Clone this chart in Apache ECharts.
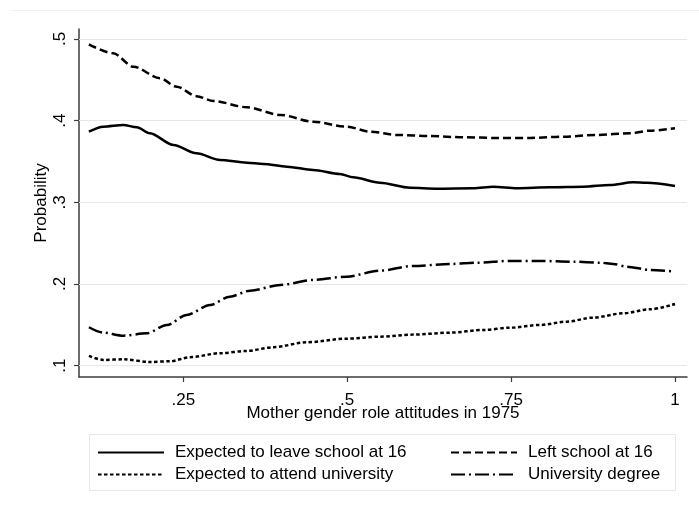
<!DOCTYPE html>
<html>
<head>
<meta charset="utf-8">
<script src="https://cdn.jsdelivr.net/npm/echarts@6/dist/echarts.min.js"></script>
<style>
html,body{margin:0;padding:0;background:#fff;}
#chart{width:699px;height:508px;}
</style>
</head>
<body>
<div id="chart"></div>
<script>
// ---- data ----
var xTicks = [0.25, 0.5, 0.75, 1];
var yTicks = [0.1, 0.2, 0.3, 0.4, 0.5];

var leaveX = [0.106,0.128,0.1585,0.179,0.199,0.235,0.270,0.306,0.347,0.372,0.408,0.448,0.489,0.509,0.550,0.596,0.637,0.692,0.723,0.759,0.809,0.860,0.901,0.936,0.957,1.0];
var leaveY = [0.3865,0.3926,0.3947,0.3919,0.3845,0.3702,0.360,0.3518,0.3485,0.347,0.3436,0.3396,0.3347,0.3307,0.324,0.3179,0.3167,0.3172,0.3191,0.3172,0.3184,0.3191,0.3212,0.3245,0.324,0.320];

var leftX = [0.106,0.143,0.174,0.2145,0.240,0.270,0.296,0.347,0.398,0.448,0.499,0.535,0.576,0.626,0.677,0.728,0.779,0.830,0.881,0.931,0.962,1.0];
var leftY = [0.4935,0.4825,0.466,0.452,0.4416,0.430,0.424,0.4164,0.407,0.3987,0.3926,0.3865,0.3825,0.3812,0.3796,0.3788,0.3788,0.3804,0.3825,0.3845,0.3877,0.3907];

var attendX = [0.106,0.128,0.1585,0.199,0.230,0.260,0.306,0.347,0.387,0.438,0.499,0.550,0.600,0.657,0.708,0.748,0.794,0.835,0.875,0.921,0.962,1.0];
var attendY = [0.1119,0.107,0.1078,0.1045,0.1054,0.1103,0.1152,0.118,0.1225,0.1286,0.133,0.1355,0.138,0.1404,0.1437,0.1465,0.1498,0.1539,0.1588,0.1641,0.169,0.1755];

var degreeX = [0.106,0.128,0.1585,0.194,0.225,0.255,0.291,0.321,0.352,0.398,0.448,0.499,0.550,0.600,0.657,0.698,0.748,0.794,0.845,0.886,0.906,0.926,0.962,1.0];
var degreeY = [0.147,0.1404,0.1367,0.1396,0.1498,0.162,0.1743,0.1845,0.1918,0.1988,0.2049,0.209,0.2163,0.222,0.2245,0.2261,0.2282,0.2282,0.2273,0.2261,0.2245,0.2212,0.2172,0.2151];

var names = ['Expected to leave school at 16', 'Left school at 16', 'Expected to attend university', 'University degree'];

function pairs(xs, ys){ return xs.map(function(x,i){ return [x, ys[i]]; }); }
function fmt(v){ return String(v).replace(/^0\./, '.'); }

var FONT = 'Liberation Sans, Arial, sans-serif';
var FS = 17;

var chart = echarts.init(document.getElementById('chart'), null, {renderer:'canvas'});

function lineSeries(name, data, dash, extra){
  var s = {
    name: name, type: 'line', data: data,
    symbol: 'none', smooth: 0.3, smoothMonotone: 'x',
    lineStyle: {color:'#000', width: 2.5, type: dash},
    itemStyle: {color:'#000'},
    z: 3
  };
  if (extra) for (var k in extra) s[k] = extra[k];
  return s;
}

function legendAt(name, left, top){
  return {
    data: [name], left: left, top: top, padding: 0,
    itemWidth: 66, itemHeight: 14,
    itemStyle: {opacity: 0, borderWidth: 0},
    lineStyle: {opacity: 1},
    textStyle: {fontFamily: FONT, fontSize: FS, color: '#000', padding: [0,0,0,6]},
    selectedMode: false
  };
}

var option = {
  animation: false,
  backgroundColor: '#fff',
  grid: {left: 79, right: 12, top: 29, bottom: 131, containLabel: false},
  xAxis: {
    type: 'value', min: 0.0909, max: 1.0183,
    name: 'Mother gender role attitudes in 1975',
    nameLocation: 'middle', nameGap: 28, nameMoveOverlap: false,
    nameTextStyle: {fontFamily: FONT, fontSize: FS, color: '#000'},
    axisLine: {show: true, lineStyle: {color: '#3c3c3c', width: 1.5}},
    axisTick: {show: true, length: 5, customValues: xTicks, lineStyle: {color: '#3c3c3c', width: 1.2}},
    axisLabel: {customValues: xTicks, formatter: fmt, margin: 15, fontFamily: FONT, fontSize: FS, color: '#000'},
    splitLine: {show: false}
  },
  yAxis: {
    type: 'value', min: 0.0861, max: 0.5122,
    name: 'Probability',
    nameLocation: 'middle', nameGap: 29, nameMoveOverlap: false,
    nameTextStyle: {fontFamily: FONT, fontSize: FS, color: '#000'},
    axisLine: {show: true, lineStyle: {color: '#3c3c3c', width: 1.5}},
    axisTick: {show: true, length: 5, customValues: yTicks, lineStyle: {color: '#3c3c3c', width: 1.2}},
    axisLabel: {customValues: yTicks, formatter: fmt, rotate: 90, margin: 10, fontFamily: FONT, fontSize: FS, color: '#000'},
    splitLine: {show: false}
  },
  legend: [
    legendAt(names[0], 97, 444),
    legendAt(names[1], 450, 444),
    legendAt(names[2], 97, 466),
    legendAt(names[3], 450, 466)
  ],
  graphic: [
    {type:'line', shape:{x1:10, y1:10.5, x2:699, y2:10.5}, style:{stroke:'#f0f0f0', lineWidth:1}, silent:true, z:-10},
    {type:'rect', shape:{x:89.5, y:434.5, width:586, height:56}, style:{fill:'none', stroke:'#e6e6e6', lineWidth:1}, silent:true, z:-10}
  ],
  series: [
    lineSeries(names[0], pairs(leaveX, leaveY), 'solid', {
      markLine: {
        silent: true, symbol: 'none', label: {show:false},
        lineStyle: {color:'#e6e6e6', width:1, type:'solid'},
        data: yTicks.map(function(v){ return {yAxis: v}; }),
        z: 1
      }
    }),
    lineSeries(names[1], pairs(leftX, leftY), [8,4]),
    lineSeries(names[2], pairs(attendX, attendY), [3.5,2.5]),
    lineSeries(names[3], pairs(degreeX, degreeY), [14,4,2,4])
  ]
};
chart.setOption(option);
</script>
</body>
</html>
